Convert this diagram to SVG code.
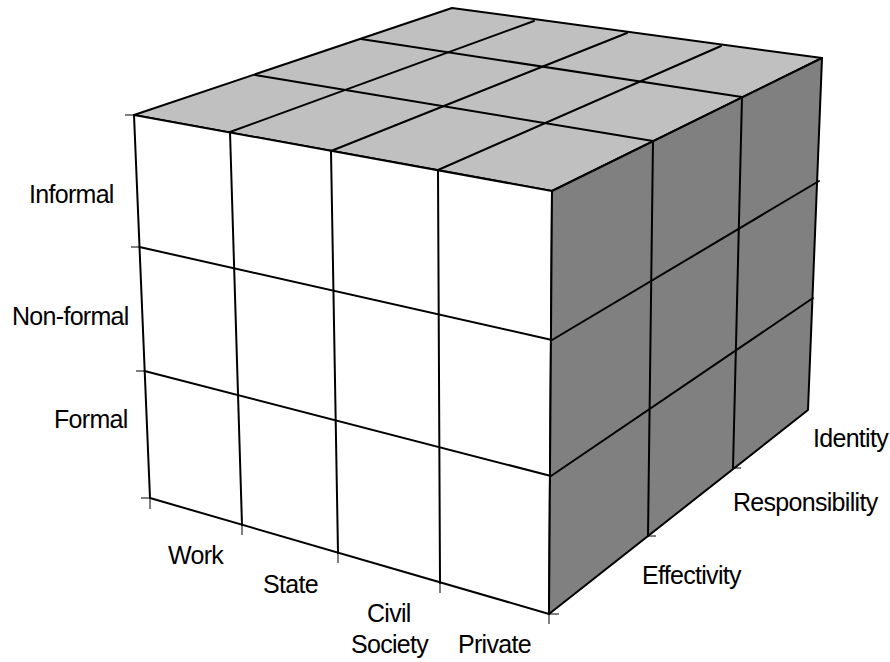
<svg xmlns="http://www.w3.org/2000/svg" width="890" height="662" viewBox="0 0 890 662">
<style>
.ln{stroke:#000;stroke-width:2;fill:none;stroke-linecap:round;stroke-linejoin:round}
.top{fill:#c0c0c0}
.front{fill:#fff}
.side{fill:#808080}
.tk{stroke:#000;stroke-width:1;fill:none}
.lb{font-family:"Liberation Sans",Arial,sans-serif;font-size:25px;letter-spacing:-0.7px;fill:#000}
</style>
<rect width="890" height="662" fill="#fff"/>
<g id="top-face">
<polygon points="134,115 452,8 822,58 552,191" class="ln top"/>
<line class="ln" x1="230" y1="132" x2="534" y2="21"/>
<line class="ln" x1="331" y1="151" x2="627" y2="33"/>
<line class="ln" x1="438" y1="170" x2="721" y2="46"/>
<line class="ln" x1="255" y1="75" x2="653" y2="141"/>
<line class="ln" x1="361" y1="39" x2="742" y2="97"/>
</g>
<g id="front-face">
<polygon points="134,115 552,191 549,614 150,498" class="ln front"/>
<line class="ln" x1="230" y1="132" x2="242" y2="525"/>
<line class="ln" x1="331" y1="151" x2="338" y2="553"/>
<line class="ln" x1="438" y1="170" x2="440" y2="583"/>
<line class="ln" x1="139.5" y1="247" x2="552" y2="340"/>
<line class="ln" x1="144.5" y1="371" x2="551" y2="476"/>
</g>
<g id="side-face">
<polygon points="552,191 822,58 808,410 549,614" class="ln side"/>
<line class="ln" x1="653" y1="141" x2="648" y2="536"/>
<line class="ln" x1="742" y1="97" x2="733" y2="468"/>
<line class="ln" x1="552" y1="340" x2="819" y2="181"/>
<line class="ln" x1="551" y1="476" x2="813" y2="298"/>
</g>
<g id="ticks">
<line class="tk" x1="125" y1="115" x2="134" y2="115"/>
<line class="tk" x1="131" y1="247" x2="140" y2="247"/>
<line class="tk" x1="136" y1="371" x2="145" y2="371"/>
<line class="tk" x1="141" y1="498" x2="150" y2="498"/>
<line class="tk" x1="150" y1="498" x2="150" y2="509"/>
<line class="tk" x1="242" y1="525" x2="242" y2="535"/>
<line class="tk" x1="338" y1="553" x2="338" y2="563"/>
<line class="tk" x1="440" y1="583" x2="440" y2="593"/>
<line class="tk" x1="549" y1="614" x2="549" y2="624"/>
<line class="tk" x1="549" y1="614" x2="559" y2="614"/>
<line class="tk" x1="648" y1="536" x2="656" y2="536"/>
<line class="tk" x1="733" y1="468" x2="741" y2="468"/>
</g>
<g id="labels">
<text class="lb" x="29" y="203">Informal</text>
<text class="lb" x="12" y="325">Non-formal</text>
<text class="lb" x="54" y="428">Formal</text>
<text class="lb" x="168" y="564">Work</text>
<text class="lb" x="263" y="593">State</text>
<text class="lb" x="367" y="622">Civil</text>
<text class="lb" x="351" y="653">Society</text>
<text class="lb" x="458" y="653">Private</text>
<text class="lb" x="813" y="447">Identity</text>
<text class="lb" x="733" y="511">Responsibility</text>
<text class="lb" x="642" y="584">Effectivity</text>
</g>
</svg>
